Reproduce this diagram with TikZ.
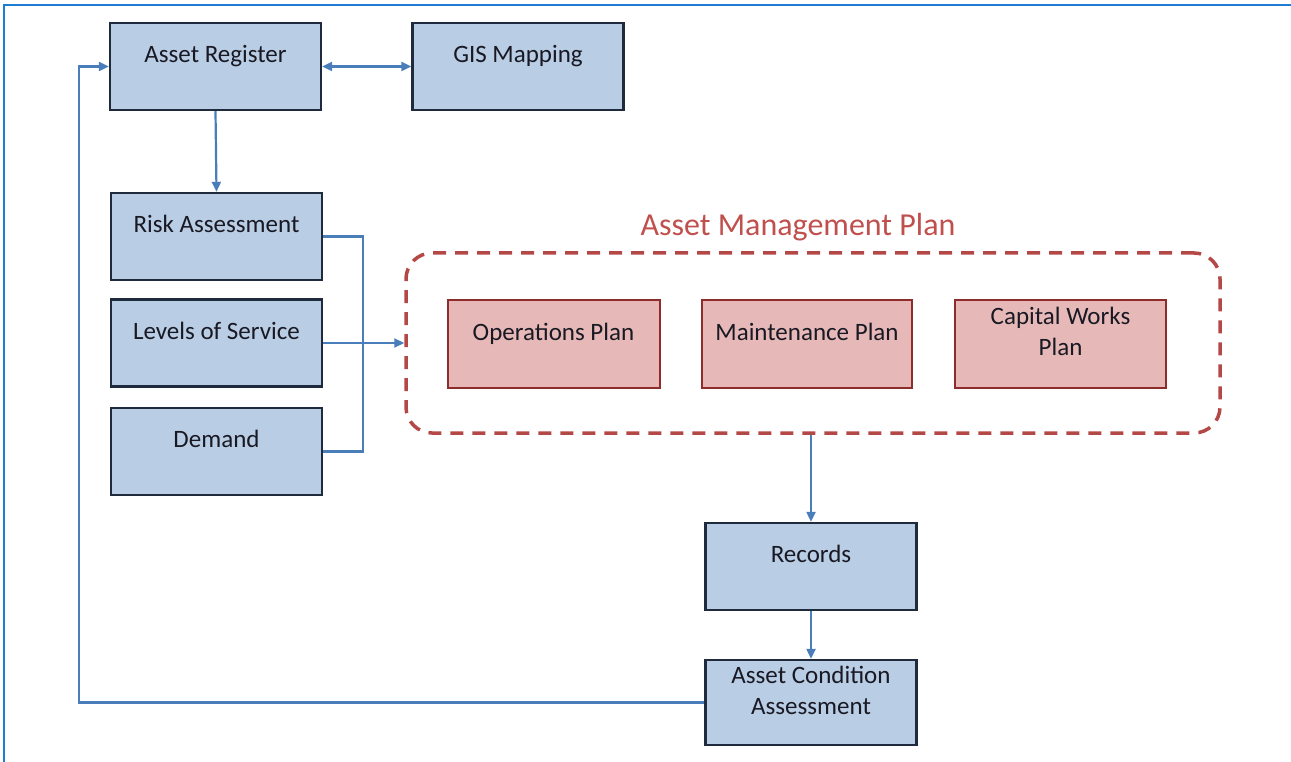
\documentclass[tikz,border=0pt]{standalone}
\usepackage{fontspec}
\setmainfont{Carlito}
\usetikzlibrary{arrows.meta}
\definecolor{bluefill}{RGB}{185,205,229}
\definecolor{blueedge}{RGB}{31,43,60}
\definecolor{pinkfill}{RGB}{230,185,184}
\definecolor{pinkedge}{RGB}{140,45,43}
\definecolor{amptitle}{RGB}{192,80,77}
\definecolor{dashred}{RGB}{180,72,70}
\definecolor{conn}{RGB}{74,126,187}
\definecolor{frameblue}{RGB}{30,125,210}
\definecolor{txt}{RGB}{25,25,35}
\tikzset{
  bbox/.style={draw=blueedge, fill=bluefill, line width=2.4pt, minimum width=211pt, minimum height=87pt,
    inner sep=0pt, align=center, text=txt, font=\fontsize{25}{31}\selectfont},
  pbox/.style={draw=pinkedge, fill=pinkfill, line width=2pt, minimum width=212pt, minimum height=88pt,
    inner sep=0pt, align=center, text=txt, font=\fontsize{25}{31}\selectfont},
  conline/.style={draw=conn, line width=2.2pt},
  arr/.style={conline, -{Triangle[length=10pt,width=9pt]}},
  darr/.style={conline, {Triangle[length=10pt,width=9pt]}-{Triangle[length=10pt,width=9pt]}},
}
\begin{document}
\begin{tikzpicture}[x=1pt,y=-1pt]
\useasboundingbox (0,0) rectangle (1291,762);
% frame
\draw[frameblue, line width=2.2pt] (4,762) -- (4,5) -- (1291,5);

% dashed group
\node[draw=dashred, line width=3.5pt, dash pattern=on 13pt off 9pt, rounded corners=26pt,
  minimum width=814pt, minimum height=180pt, inner sep=0pt] (amp) at (813,343) {};
\node[text=amptitle, font=\fontsize{32}{34}\selectfont] (amptitle) at (798,227) {Asset Management Plan};

% blue boxes
\node[bbox] (ar) at (215.5,66.5) {Asset Register\\[-6pt]\rule{0pt}{0pt}};
\node[bbox] (gis) at (518,66.5) {GIS Mapping\\[-6pt]\rule{0pt}{0pt}};
\node[bbox] (ra) at (216.5,236.5) {Risk Assessment\\[-6pt]\rule{0pt}{0pt}};
\node[bbox] (los) at (216.5,343) {Levels of Service\\[-6pt]\rule{0pt}{0pt}};
\node[bbox] (dem) at (216.5,451.5) {Demand\\[-6pt]\rule{0pt}{0pt}};
\node[bbox] (rec) at (811,566.5) {Records\\[-6pt]\rule{0pt}{0pt}};
\node[bbox, minimum height=85pt] (aca) at (811,702.5) {Asset Condition\\Assessment\\[-6pt]\rule{0pt}{0pt}};

% pink boxes
\node[pbox] (ops) at (553.5,344) {Operations Plan\\[-6pt]\rule{0pt}{0pt}};
\node[pbox, minimum width=210pt] (mnt) at (807,344) {Maintenance Plan\\[-6pt]\rule{0pt}{0pt}};
\node[pbox, minimum width=211pt] (cap) at (1060.5,344) {Capital Works\\Plan\\[-6pt]\rule{0pt}{0pt}};

% connectors
\draw[darr] (ar.east) -- (gis.west);
\draw[arr] (ar.south) -- (ra.north);
\coordinate (bus) at (363,0);
\draw[conline] (ra.east) -| (bus |- dem.east) -- (dem.east);
\draw[arr] (los.east) -- (amp.west);
\draw[arr] (amp.south -| rec.north) -- (rec.north);
\draw[arr] (rec.south) -- (aca.north);
\coordinate (loop) at (79,0);
\draw[arr] (aca.west) -- (loop |- aca.west) -- (loop |- ar.west) -- (ar.west);
\end{tikzpicture}
\end{document}
